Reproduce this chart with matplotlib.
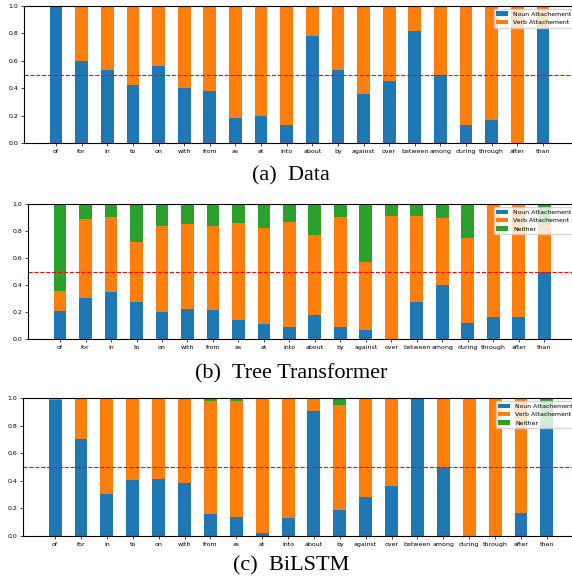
import numpy as np
import matplotlib
matplotlib.use('Agg')
from matplotlib import pyplot as plt

preps = ['of', 'for', 'in', 'to', 'on', 'with', 'from', 'as', 'at', 'into',
         'about', 'by', 'against', 'over', 'between', 'among', 'during',
         'through', 'after', 'than']

# (a) Data
data_noun = [0.99, 0.60, 0.53, 0.42, 0.56, 0.40, 0.38, 0.18, 0.20, 0.13,
             0.78, 0.53, 0.36, 0.455, 0.82, 0.50, 0.13, 0.165, 0.0, 0.835]
data_verb = [1 - v for v in data_noun]

# (b) Tree Transformer
tt_noun = [0.207, 0.304, 0.348, 0.274, 0.200, 0.225, 0.215, 0.141, 0.109, 0.086,
           0.180, 0.091, 0.069, 0.0, 0.272, 0.400, 0.121, 0.165, 0.165, 0.50]
tt_noun_verb = [0.358, 0.894, 0.906, 0.719, 0.840, 0.852, 0.840, 0.859, 0.825, 0.872,
                0.775, 0.909, 0.573, 0.914, 0.914, 0.901, 0.751, 1.0, 1.0, 0.845]

# (c) BiLSTM
bl_noun = [0.99, 0.702, 0.305, 0.407, 0.416, 0.385, 0.160, 0.140, 0.019, 0.131,
           0.910, 0.191, 0.283, 0.363, 1.0, 0.501, 0.0, 0.0, 0.165, 0.81]
bl_noun_verb = [0.995, 0.993, 0.997, 0.995, 0.993, 1.0, 0.983, 0.978, 1.0, 1.0,
                1.0, 0.952, 1.0, 1.0, 1.0, 1.0, 1.0, 1.0, 1.0, 0.81]


def stack(noun, noun_verb):
    noun = np.array(noun)
    nv = np.array(noun_verb)
    return noun, nv - noun, 1 - nv


W, H = 572, 584
fig = plt.figure(figsize=(W / 100, H / 100), dpi=100)


def make_ax(left, top, bottom, right, xlim):
    ax = fig.add_axes([left / W, 1 - bottom / H, (right - left) / W, (bottom - top) / H])
    ax.set_xlim(*xlim)
    ax.set_ylim(0, 1.0)
    ax.set_xticks(range(len(preps)))
    ax.set_xticklabels(preps)
    ax.set_yticks(np.arange(0, 1.01, 0.2))
    ax.tick_params(labelsize=4.5, length=2, width=0.5, pad=2)
    for s in ax.spines.values():
        s.set_linewidth(0.8)
    return ax


x = np.arange(len(preps))
fs_leg = 4.4

# panel a
ax = make_ax(24, 6, 143, 577, (-1.25, 20.33))
ax.bar(x, data_noun, 0.5, label='Noun Attachement')
ax.bar(x, data_verb, 0.5, bottom=data_noun, label='Verb Attachement')
ax.axhline(0.5, color='r', linestyle='--', linewidth=0.8)
ax.legend(loc='upper right', fontsize=fs_leg)

# panel b
n, v, ne = stack(tt_noun, tt_noun_verb)
ax = make_ax(28, 204.3, 339, 577, (-1.26, 20.29))
ax.bar(x, n, 0.5, label='Noun Attachement')
ax.bar(x, v, 0.5, bottom=n, label='Verb Attachement')
ax.bar(x, ne, 0.5, bottom=n + v, label='Neither')
ax.axhline(0.5, color='r', linestyle='--', linewidth=0.8)
ax.legend(loc='upper right', fontsize=fs_leg)

# panel c
n, v, ne = stack(bl_noun, bl_noun_verb)
ax = make_ax(23, 398.3, 536, 579, (-1.24, 20.24))
ax.bar(x, n, 0.5, label='Noun Attachement')
ax.bar(x, v, 0.5, bottom=n, label='Verb Attachement')
ax.bar(x, ne, 0.5, bottom=n + v, label='Neither')
ax.axhline(0.5, color='r', linestyle='--', linewidth=0.8)
ax.legend(loc='upper right', fontsize=fs_leg)

cap = dict(family='Liberation Serif', fontsize=16, ha='center', va='center')
fig.text(291 / W, 1 - 176 / H, '(a)  Data', **cap)
fig.text(291 / W, 1 - 374 / H, '(b)  Tree Transformer', **cap)
fig.text(291 / W, 1 - 566 / H, '(c)  BiLSTM', **cap)

fig.savefig('out.png', dpi=100)
